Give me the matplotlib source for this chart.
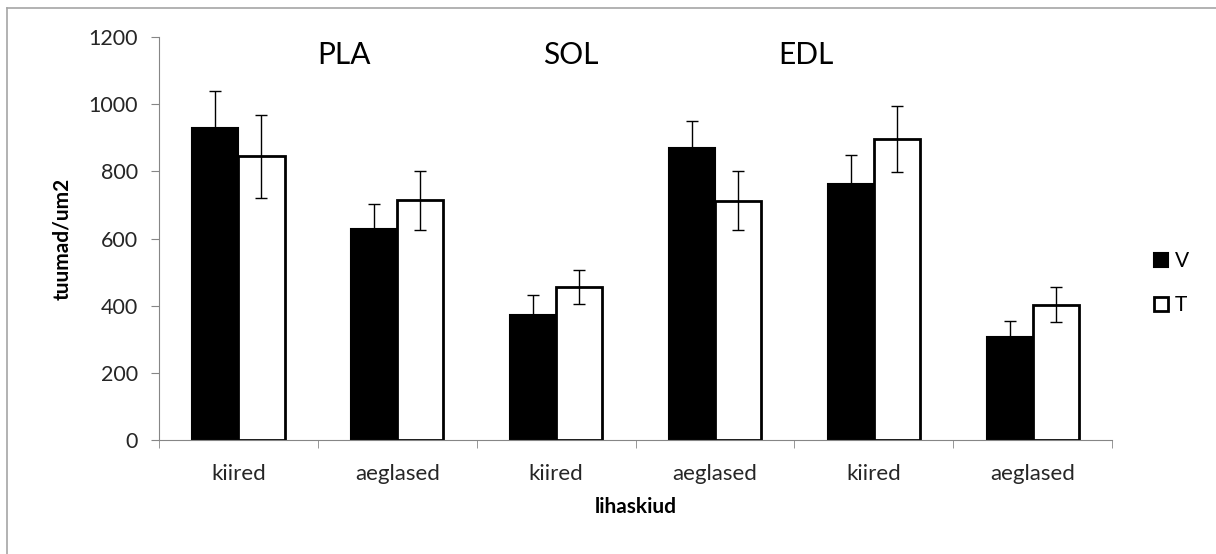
import matplotlib
matplotlib.use("Agg")
import matplotlib.pyplot as plt
import numpy as np
from matplotlib.lines import Line2D

plt.rcParams['font.family'] = ['Lato', 'DejaVu Sans']

# ---------- data ----------
categories = ["kiired", "aeglased", "kiired", "aeglased", "kiired", "aeglased"]
muscles = ["PLA", "SOL", "EDL"]
muscle_x = [0.665, 2.09, 3.575]
v_vals = [930, 629, 374, 869, 763, 308]
v_err = [108, 73, 58, 80, 86, 48]
t_vals = [845, 714, 456, 713, 896, 404]
t_err = [123, 88, 51, 88, 98, 52]

GRAY = "#868686"
TXT = "#262626"

fig = plt.figure(figsize=(12.16, 5.54), dpi=100)
ax = fig.add_axes([0.1308, 0.2049, 0.7837, 0.7283])

x = np.arange(len(categories))
w = 0.29
ax.bar(x - w/2, v_vals, w, color="black", edgecolor="black", linewidth=1.5, label="V", zorder=2)
ax.bar(x + w/2, t_vals, w, color="white", edgecolor="black", linewidth=2, label="T", zorder=2)
ax.errorbar(x - w/2, v_vals, yerr=v_err, fmt="none", ecolor="black", elinewidth=1, capsize=4.5, capthick=1, zorder=3)
ax.errorbar(x + w/2, t_vals, yerr=t_err, fmt="none", ecolor="black", elinewidth=1, capsize=4.5, capthick=1, zorder=3)

for name, mx in zip(muscles, muscle_x):
    ax.text(mx, 1145, name, ha="center", va="center", fontsize=21.5, color="black")

ax.set_xlim(-0.5, len(categories) - 0.5)
ax.set_ylim(0, 1200)
ax.set_yticks(np.arange(0, 1201, 200))
ax.set_xticks(x)
ax.set_xticklabels(categories)
ax.set_xticks(np.arange(-0.5, len(categories)), minor=True)
ax.tick_params(axis="x", which="major", length=0, pad=17, labelsize=16, labelcolor=TXT)
ax.tick_params(axis="x", which="minor", length=6, color=GRAY, direction="out")
ax.tick_params(axis="y", length=6, color=GRAY, labelsize=15.5, labelcolor=TXT, pad=9)

for s in ["top", "right"]:
    ax.spines[s].set_visible(False)
for s in ["left", "bottom"]:
    ax.spines[s].set_color(GRAY)

ax.set_ylabel("tuumad/um2", fontsize=15, fontweight="bold", labelpad=12)
ax.set_xlabel("lihaskiud", fontsize=15, fontweight="bold", labelpad=9)

fig.legend(loc="center left", bbox_to_anchor=(0.949, 0.489), frameon=False,
           fontsize=15, handlelength=0.67, handleheight=0.67, handletextpad=0.35,
           labelspacing=1.15, borderpad=0, borderaxespad=0)

# chart-area border (top and left edges only, the rest is cropped away)
fig.lines.append(Line2D([7 / 1216, 7 / 1216], [0, 1 - 8 / 554], transform=fig.transFigure,
                        color="#a6a6a6", linewidth=1.2))
fig.lines.append(Line2D([7 / 1216, 1], [1 - 8 / 554, 1 - 8 / 554], transform=fig.transFigure,
                        color="#a6a6a6", linewidth=1.2))

fig.savefig("out.png", dpi=100)
